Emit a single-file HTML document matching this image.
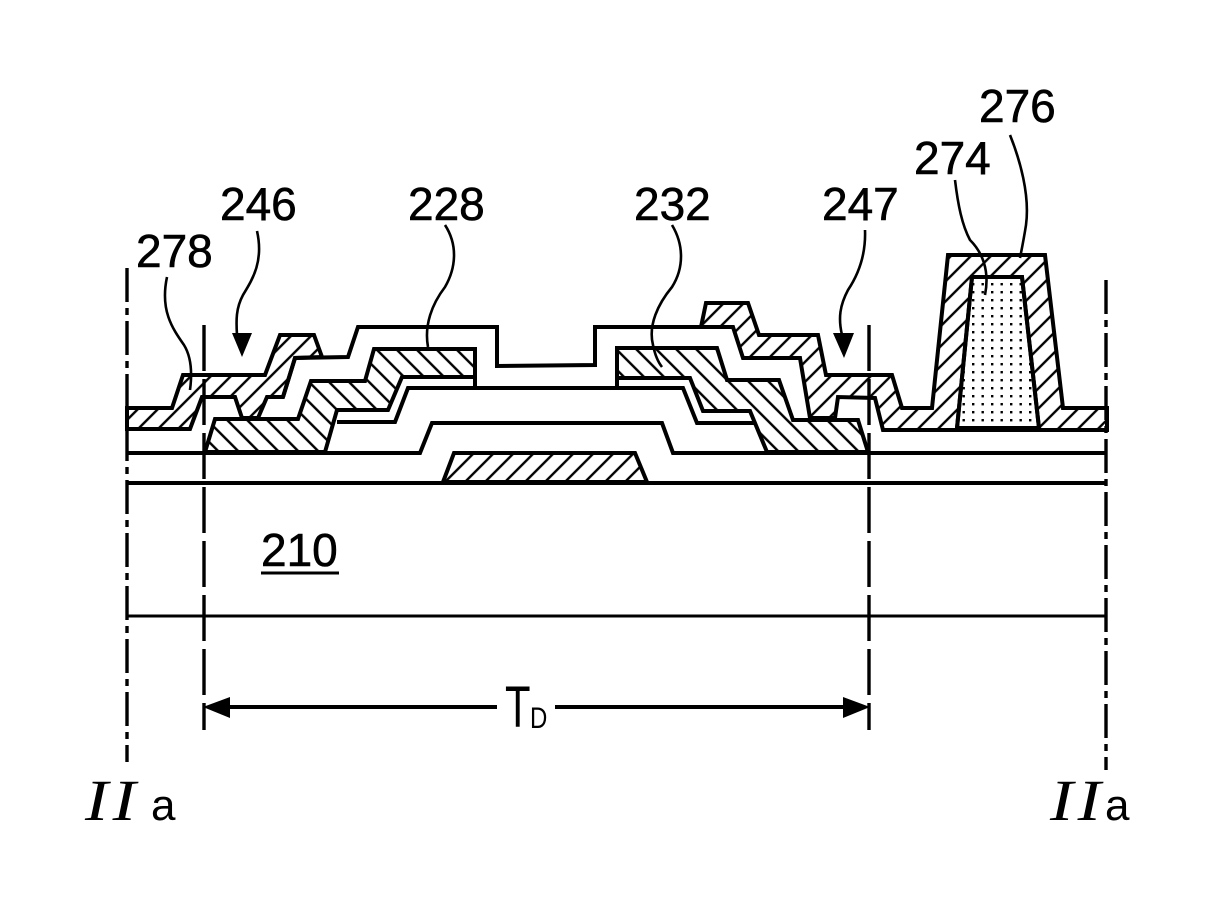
<!DOCTYPE html>
<html>
<head>
<meta charset="utf-8">
<style>
html,body{margin:0;padding:0;background:#fff}
svg{display:block}
text{fill:#000;font-family:"Liberation Sans",sans-serif}
.n{stroke:#000;stroke-width:.6}
.i{font-family:"Liberation Serif",serif;font-style:italic;font-size:58px}
</style>
</head>
<body>
<svg width="1225" height="902" viewBox="0 0 1225 902" xmlns="http://www.w3.org/2000/svg">
<defs>
<pattern id="f" width="14.14" height="14.14" patternUnits="userSpaceOnUse" patternTransform="rotate(45)">
<line x1="5" y1="0" x2="5" y2="14.14" stroke="#000" stroke-width="2.4"/>
</pattern>
<pattern id="b" width="14.14" height="14.14" patternUnits="userSpaceOnUse" patternTransform="rotate(-45)">
<line x1="5" y1="0" x2="5" y2="14.14" stroke="#000" stroke-width="2.4"/>
</pattern>
<pattern id="d" width="9.5" height="8" patternUnits="userSpaceOnUse">
<rect x="3" y="3" width="2.4" height="2.4" fill="#000"/>
</pattern>
</defs>
<rect width="1225" height="902" fill="#fff"/>

<g fill="none" stroke="#000" stroke-width="4" stroke-linejoin="miter">
<!-- substrate lines -->
<line x1="127" y1="483" x2="1105" y2="483"/>
<line x1="127" y1="616" x2="1105" y2="616" stroke-width="3"/>
<polyline points="127,453 420,453 432,423 662,423 673,453 1105,453"/>
<!-- gate -->
<polygon points="443,482 454,453 635,453 647,482" fill="url(#f)"/>
<!-- active -->
<polyline points="337,422 395,422 408,388 683,388 697,423 755,423"/>
<polyline points="617,348 617,388"/>
<line x1="475" y1="349" x2="475" y2="388"/>
<!-- source -->
<polygon points="205,452 215,419 298,419 311,381 365,381 374,349 475,349 475,377 402,377 388,410 337,410 325,452" fill="url(#b)"/>
<!-- drain -->
<polygon points="617,348 717,348 727,380 779,380 793,420 858,420 868,452 767,452 750,411 703,411 690,378 617,378" fill="url(#b)"/>
<!-- passivation -->
<polyline points="283,397 295,358 348,357 358,327 497,327 497,366 595,365 595,327 733,327"/>
<!-- left pixel electrode -->
<polygon points="127,408 172,408 183,375 265,375 280,335 314,335 322,357 295,358 283,397 267,397 258,418 242,418 235,397 202,397 190,429 127,429" fill="url(#f)"/>
<!-- right electrode -->
<polygon points="706,303 748,303 759,335 818,335 826,375 892,375 902,408 932,408 948,255 1045,255 1063,408 1107,408 1107,430 883,430 875,398 838,397 835,418 810,418 800,358 743,358 733,327 701,327" fill="url(#f)"/>
<!-- spacer -->
<polygon points="957,428 972,277 1022,277 1039,428" fill="#fff"/>
<polygon points="957,428 972,277 1022,277 1039,428" fill="url(#d)"/>
</g>

<!-- leaders -->
<g fill="none" stroke="#000" stroke-width="2.6">
<path d="M167,277 C160,310 172,328 184,345 C192,358 192,375 190,390"/>
<path d="M257,231 C264,262 252,280 243,295 C236,308 236,320 237,335"/>
<path d="M445,225 C458,245 456,268 445,287 C432,304 424,325 428,347"/>
<path d="M672,225 C684,245 684,268 672,287 C658,304 648,325 653,345 C655,355 658,362 662,367"/>
<path d="M865,230 C866,255 858,275 848,290 C840,305 838,318 842,335"/>
<path d="M955,180 C958,205 962,225 970,240 C982,252 990,270 985,295"/>
<path d="M1010,135 C1020,160 1030,195 1026,225 C1024,238 1022,248 1020,258"/>
</g>

<!-- dashed section lines -->
<g fill="none" stroke="#000" stroke-width="3.4">
<line x1="127" y1="268" x2="127" y2="762" stroke-dasharray="34 6 7 6"/>
<line x1="204" y1="325" x2="204" y2="730" stroke-dasharray="46 8"/>
<line x1="869" y1="325" x2="869" y2="730" stroke-dasharray="46 8"/>
<line x1="1106" y1="280" x2="1106" y2="770" stroke-dasharray="34 6 7 6"/>
<line x1="215" y1="707" x2="497" y2="707" stroke-width="4"/>
<line x1="555" y1="707" x2="860" y2="707" stroke-width="4"/>
</g>

<!-- arrowheads -->
<polygon points="203,707 230,697 230,718" fill="#000"/>
<polygon points="870,707 843,697 843,718" fill="#000"/>
<polygon points="232,333 252,333 242,357" fill="#000"/>
<polygon points="833,333 854,333 844,358" fill="#000"/>

<!-- labels -->
<g font-size="46" class="n">
<text x="136" y="267">278</text>
<text x="220" y="220">246</text>
<text x="408" y="220">228</text>
<text x="634" y="220">232</text>
<text x="822" y="220">247</text>
<text x="914" y="174">274</text>
<text x="979" y="122">276</text>
<text x="261" y="566">210</text>
</g>
<line x1="261" y1="573" x2="339" y2="573" stroke="#000" stroke-width="3"/>

<text transform="translate(505,727) scale(.72,1)" font-size="58">T</text>
<text transform="translate(530,728) scale(.8,1)" font-size="30">D</text>

<text class="i" transform="translate(85,820) scale(1.2,1)">I</text>
<text class="i" transform="translate(112.6,820) scale(1.2,1)">I</text>
<text class="i" transform="translate(1050,820) scale(1.2,1)">I</text>
<text class="i" transform="translate(1077.6,820) scale(1.2,1)">I</text>
<text x="151" y="820" font-size="44">a</text>
<text x="1105" y="820" font-size="44">a</text>
</svg>
</body>
</html>
